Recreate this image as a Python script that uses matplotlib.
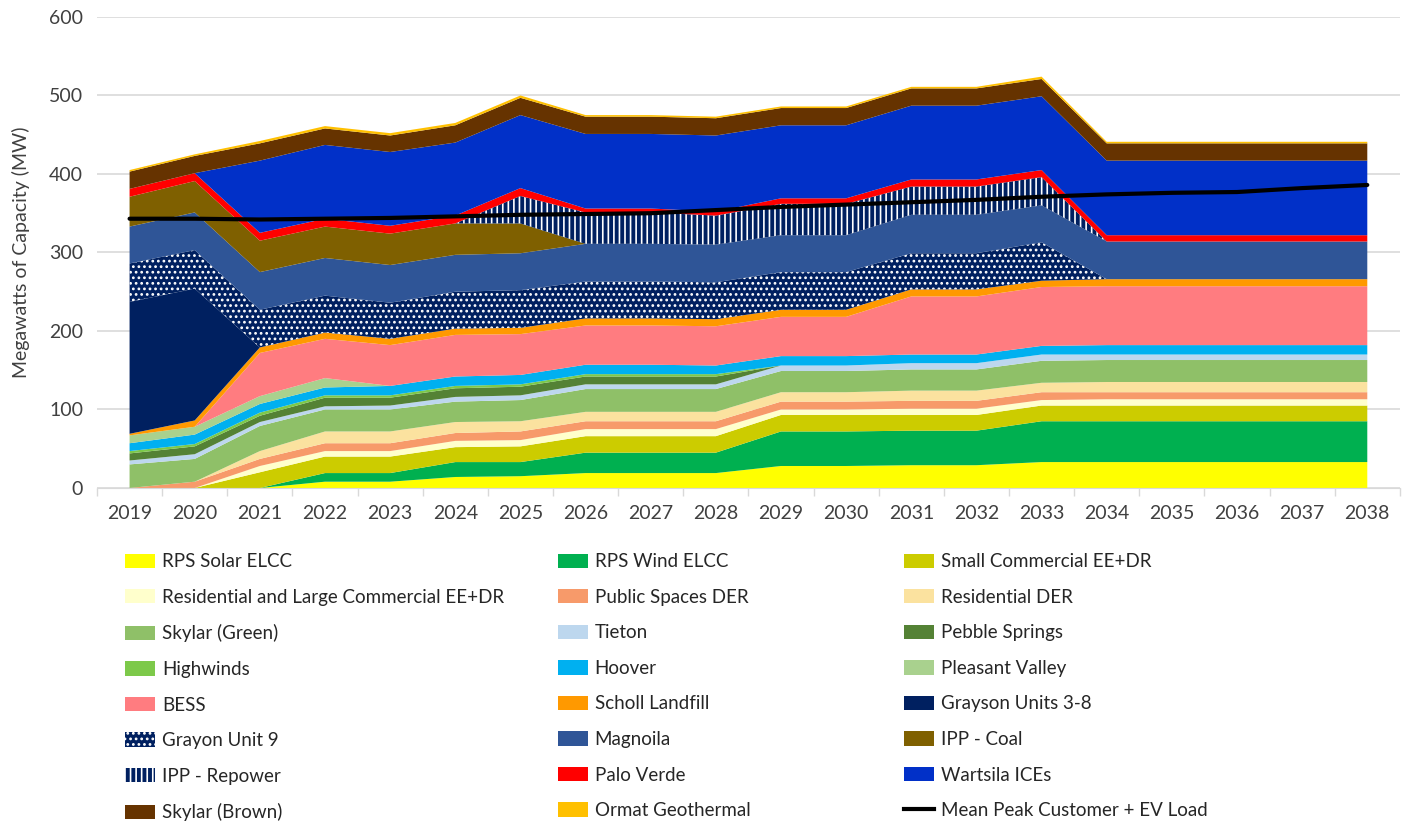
import numpy as np
import matplotlib
matplotlib.use('Agg')
import matplotlib.pyplot as plt
from matplotlib.patches import Patch
from matplotlib.lines import Line2D

plt.rcParams['font.family'] = ['Lato', 'DejaVu Sans']
plt.rcParams['hatch.linewidth'] = 1.2

years = [str(y) for y in range(2019, 2039)]

# stacked capacity (MW), bottom to top
solar = [0, 0, 0, 8, 8, 14, 15, 19, 19, 19, 28, 28, 29, 29, 33, 33, 33, 33, 33, 33]
wind = [0, 0, 0, 11, 11, 19, 18, 26, 26, 26, 44, 44, 44, 44, 52, 52, 52, 52, 52, 52]
small_comm = [0, 0, 20, 21, 21, 19, 20, 21, 21, 21, 21, 21, 20, 20, 20, 20, 20, 20, 20, 20]
res_large = [0, 0, 8, 7, 7, 8, 8, 9, 9, 9, 7, 7, 8, 8, 7, 8, 8, 8, 8, 8]
public_der = [0, 8, 9, 10, 10, 10, 11, 10, 10, 10, 10, 10, 10, 10, 10, 9, 9, 9, 9, 9]
res_der = [0, 0, 10, 15, 15, 14, 13, 12, 12, 12, 12, 12, 13, 13, 12, 13, 13, 13, 13, 13]
skylar_green = [30, 29, 32, 28, 28, 26, 27, 29, 29, 29, 27, 27, 27, 27, 28, 28, 28, 28, 28, 28]
tieton = [5, 6, 5, 4, 5, 6, 6, 6, 6, 6, 7, 7, 8, 8, 8, 7, 7, 7, 7, 7]
pebble = [9, 10, 8, 11, 10, 11, 11, 10, 10, 10, 0, 0, 0, 0, 0, 0, 0, 0, 0, 0]
highwinds = [3, 3, 4, 3, 3, 3, 3, 3, 3, 3, 0, 0, 0, 0, 0, 0, 0, 0, 0, 0]
hoover = [10, 12, 11, 10, 12, 12, 12, 12, 12, 11, 12, 12, 11, 11, 11, 12, 12, 12, 12, 12]
pleasant = [10, 10, 10, 12, 0, 0, 0, 0, 0, 0, 0, 0, 0, 0, 0, 0, 0, 0, 0, 0]
bess = [0, 0, 55, 50, 52, 53, 52, 50, 50, 50, 50, 50, 74, 74, 75, 75, 75, 75, 75, 75]
scholl = [2, 8, 7, 8, 8, 8, 8, 9, 9, 9, 9, 9, 9, 9, 8, 9, 9, 9, 9, 9]
grayson = [168, 168, 0, 0, 0, 0, 0, 0, 0, 0, 0, 0, 0, 0, 0, 0, 0, 0, 0, 0]
grayon9 = [49, 49, 48, 47, 46, 47, 48, 47, 47, 47, 48, 48, 46, 46, 49, 0, 0, 0, 0, 0]
magnolia = [47, 48, 48, 48, 48, 47, 47, 48, 48, 48, 47, 47, 49, 49, 47, 48, 48, 48, 48, 48]
ipp_coal = [38, 40, 40, 40, 40, 40, 38, 0, 0, 0, 0, 0, 0, 0, 0, 0, 0, 0, 0, 0]
ipp_repower = [0, 0, 0, 0, 0, 0, 35, 40, 40, 37, 40, 40, 36, 36, 36, 0, 0, 0, 0, 0]
palo_verde = [10, 10, 10, 10, 10, 10, 10, 5, 5, 5, 7, 7, 9, 9, 9, 8, 8, 8, 8, 8]
wartsila = [0, 0, 92, 94, 94, 93, 93, 95, 95, 97, 93, 93, 94, 94, 94, 95, 95, 95, 95, 95]
skylar_brown = [22, 22, 22, 21, 21, 22, 22, 22, 22, 22, 22, 22, 22, 22, 22, 22, 22, 22, 22, 22]
ormat = [2, 2, 3, 3, 3, 3, 3, 2, 2, 2, 2, 2, 2, 2, 3, 2, 2, 2, 2, 2]

peak_load = [343, 343, 342, 343, 344, 346, 348, 349, 350, 354, 358, 361, 364, 367, 371, 374, 376, 377, 382, 386]

labels = ['RPS Solar ELCC', 'RPS Wind ELCC', 'Small Commercial EE+DR',
          'Residential and Large Commercial EE+DR', 'Public Spaces DER', 'Residential DER',
          'Skylar (Green)', 'Tieton', 'Pebble Springs',
          'Highwinds', 'Hoover', 'Pleasant Valley',
          'BESS', 'Scholl Landfill', 'Grayson Units 3-8',
          'Grayon Unit 9', 'Magnoila', 'IPP - Coal',
          'IPP - Repower', 'Palo Verde', 'Wartsila ICEs',
          'Skylar (Brown)', 'Ormat Geothermal']
series = [solar, wind, small_comm, res_large, public_der, res_der, skylar_green, tieton,
          pebble, highwinds, hoover, pleasant, bess, scholl, grayson, grayon9, magnolia,
          ipp_coal, ipp_repower, palo_verde, wartsila, skylar_brown, ormat]
colors = ['#FFFF00', '#00B050', '#CCCC00', '#FFFFCC', '#F79A6A', '#FBE29F',
          '#8FC068', '#BDD7EE', '#548235', '#7DC94A', '#00B0F0', '#A9D18E',
          '#FF7C80', '#FF9900', '#002060', '#002060', '#2F5597', '#7F6000',
          '#002060', '#FF0000', '#0130C8', '#663300', '#FFC000']
hatches = {15: '...', 18: '|||'}

x = np.arange(len(years))

fig = plt.figure(figsize=(14.14, 8.24), dpi=100)
ax = fig.add_axes([0.0686, 0.4078, 0.9214, 0.5716])

polys = ax.stackplot(x, *series, colors=colors, linewidth=0, zorder=2)
for i, p in enumerate(polys):
    p.set_linewidth(0)
    if i in hatches:
        p.set_hatch(hatches[i])
        p.set_edgecolor('white')

ax.plot(x, peak_load, color='black', lw=3, zorder=3, solid_capstyle='round')

ax.set_xlim(-0.5, len(years) - 0.5)
ax.set_ylim(0, 600)
ax.set_yticks(range(0, 601, 100))
ax.set_xticks(x)
ax.set_xticklabels(years)
ax.set_xticks(np.arange(-0.5, len(years)), minor=True)
ax.tick_params(axis='x', which='major', length=0, labelsize=14, colors='#404040', pad=12)
ax.tick_params(axis='x', which='minor', length=6, color='#D9D9D9', width=1)
ax.tick_params(axis='y', length=0, labelsize=14, colors='#404040', pad=10)
ax.grid(axis='y', color='#D9D9D9', lw=1.2, zorder=0)
ax.set_axisbelow(True)
for s in ['top', 'right', 'left']:
    ax.spines[s].set_visible(False)
ax.spines['bottom'].set_color('#D9D9D9')
ax.set_ylabel('Megawatts of Capacity (MW)', fontsize=14, color='#404040', labelpad=14)

handles = []
for i, lab in enumerate(labels):
    if i in hatches:
        handles.append(Patch(facecolor=colors[i], edgecolor='white', hatch=hatches[i], lw=0, label=lab))
    else:
        handles.append(Patch(facecolor=colors[i], lw=0, label=lab))
handles.append(Line2D([0], [0], color='black', lw=3, label='Mean Peak Customer + EV Load'))

col_x = [0.082, 0.388, 0.633]
for c in range(3):
    hs = handles[c::3]
    fig.legend(handles=hs, loc='upper left', bbox_to_anchor=(col_x[c], 0.340),
               frameon=False, fontsize=13.5, borderpad=0, labelspacing=0.99,
               handlelength=1.6, handleheight=0.8, handletextpad=0.35,
               labelcolor='#262626')

fig.savefig('out.png', dpi=100)
